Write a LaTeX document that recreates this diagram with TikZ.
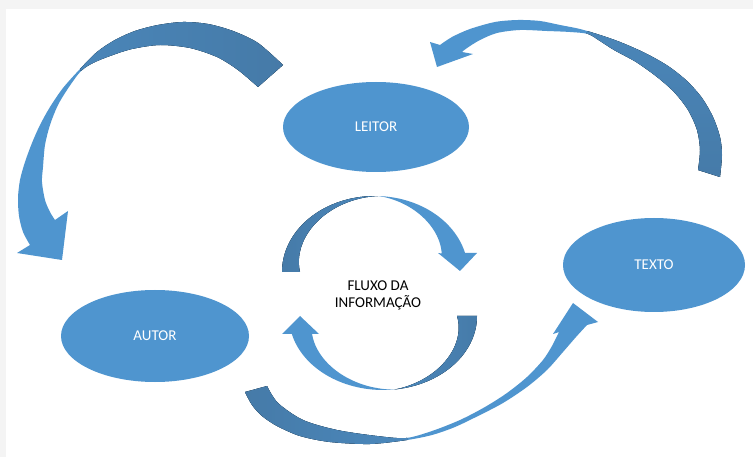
\documentclass[tikz,border=0pt]{standalone}
\usepackage{fontspec}
\setmainfont{Carlito}
\usetikzlibrary{shapes.geometric}
\definecolor{lightblue}{RGB}{79,149,207}
\definecolor{darkblue}{RGB}{69,121,166}
\definecolor{midblue}{RGB}{75,136,188}
\definecolor{bggray}{RGB}{244,244,244}
\def\myArrowA{plot[smooth] coordinates {(283,65) (258,43) (233,31) (208,24) (183,22) (158,25) (135,31) (115,40) (97,52) (80,69) (63,88) (50,107) (40,125) (32,143) (25,162) (20,180) (18,198) (19,216) (23,232) (30,245)}
  -- (17,253) -- (62,260) -- (68,211) -- (55,220)
  -- plot[smooth] coordinates {(55,220) (50,212) (45,200) (42,182) (43,167) (45,145) (50,125) (58,105) (69,87) (81,71) (93,63) (110,56) (132,49) (160,45) (190,48) (217,57) (238,70) (258,87)} -- cycle}
\def\myArrowB{plot[smooth] coordinates {(720,177) (722,155) (720,137) (713,117) (702,98) (687,81) (668,66) (645,53) (620,42) (600,35) (580,29) (560,25) (540,21) (518,20) (495,22) (470,29) (452,37) (440,45)}
  -- (430,42) -- (437,67) -- (473,54) -- (462,52)
  -- plot[smooth] coordinates {(462,52) (467,48) (480,40) (497,33) (520,30) (547,31) (570,32) (588,34) (600,41) (614,50) (636,62) (657,77) (674,92) (688,110) (697,130) (700,150) (698,170)} -- cycle}
\def\myArrowC{plot[smooth] coordinates {(245,392) (252,405) (262,416) (277,426) (300,436) (330,442) (370,444) (407,440) (432,435) (455,427) (480,415) (503,403) (527,387) (547,370) (563,352) (576,337) (587,325)}
  -- (598,322) -- (573,303) -- (553,334) -- (559,332)
  -- plot[smooth] coordinates {(559,332) (552,346) (543,360) (527,377) (507,393) (485,407) (460,420) (432,431) (406,438) (377,436) (337,430) (303,420) (278,403) (267,386)} -- cycle}
% centre upper arrow: ellipse centre (375,272), radii 93 x 76
\def\myArrowU{plot[domain=180:14.5, samples=70] ({375+93*cos(\x)},{272-76*sin(\x)})
  -- (477,253) -- (460,271) -- (438,253)
  -- plot[domain=20:88, samples=40] ({375+(93-22*pow(max(0.001,(88-\x)/68),1.2))*cos(\x)},{272-(76-22*pow(max(0.001,(88-\x)/68),1.2))*sin(\x)})
  -- plot[domain=88:180, samples=50] ({375+(93-18*pow(max(0.001,(\x-88)/92),1.2))*cos(\x)},{272-(76-18*pow(max(0.001,(\x-88)/92),1.2))*sin(\x)})
  -- cycle}
% centre lower arrow: ellipse centre (383,316), radii 94 x 74
\def\myArrowL{plot[domain=0:166, samples=70] ({383+94*cos(\x)},{316+74*sin(\x)})
  -- (282,334) -- (300,316) -- (319,334)
  -- plot[domain=161:83, samples=40] ({383+(94-19*pow(max(0.001,(\x-83)/78),1.2))*cos(\x)},{316+(74-19*pow(max(0.001,(\x-83)/78),1.2))*sin(\x)})
  -- plot[domain=83:0, samples=40] ({383+(94-20*pow(max(0.001,(83-\x)/83),1.2))*cos(\x)},{316+(74-20*pow(max(0.001,(83-\x)/83),1.2))*sin(\x)})
  -- cycle}
\begin{document}
\begin{tikzpicture}[x=1pt,y=-1pt,
  ell/.style={ellipse, fill=lightblue, text=white, inner sep=0pt,
    font=\fontsize{15}{17}\selectfont},
  centertext/.style={align=center, text=black, inner sep=0pt,
    font=\fontsize{15}{17}\selectfont}]
\useasboundingbox (0,0) rectangle (753,457);
\fill[bggray] (0,0) rectangle (753,457);
\fill[white] (6,9) rectangle (753,457);

% ellipses
\node[ell, minimum width=186pt, minimum height=90pt] (leitor) at (376,127) {LEITOR};
\node[ell, minimum width=182pt, minimum height=94pt] (texto) at (654,265) {TEXTO};
\node[ell, minimum width=188pt, minimum height=92pt] (autor) at (155,336) {AUTOR};

% ---- Arrow A: LEITOR -> AUTOR
\fill[lightblue] \myArrowA;
\begin{scope}
  \clip \myArrowA;
  \fill[left color=midblue, right color=darkblue]
    (80,69) -- (40,35) -- (40,0) -- (300,0) -- (300,110) -- (100,110) -- cycle;
\end{scope}

% ---- Arrow B: TEXTO -> LEITOR
\fill[lightblue] \myArrowB;
\begin{scope}
  \clip \myArrowB;
  \fill[top color=midblue, bottom color=darkblue]
    (587,32) -- (598,0) -- (753,0) -- (753,200) -- (580,200) -- (584,45) -- cycle;
\end{scope}

% ---- Arrow C: AUTOR -> TEXTO
\fill[lightblue] \myArrowC;
\begin{scope}
  \clip \myArrowC;
  \fill[left color=darkblue, right color=midblue]
    (407,439) -- (407,370) -- (230,370) -- (230,457) -- (407,457) -- cycle;
\end{scope}

% ---- Center upper arrow
\fill[lightblue] \myArrowU;
\begin{scope}
  \clip \myArrowU;
  \fill[left color=darkblue, right color=midblue]
    (378,190) -- (270,190) -- (270,290) -- (378,290) -- cycle;
\end{scope}

% ---- Center lower arrow
\fill[lightblue] \myArrowL;
\begin{scope}
  \clip \myArrowL;
  \fill[left color=midblue, right color=darkblue]
    (394,400) -- (490,400) -- (490,300) -- (394,300) -- cycle;
\end{scope}

\node[centertext] (fluxo) at (378,295) {FLUXO DA\\INFORMAÇÃO};
\end{tikzpicture}
\end{document}
